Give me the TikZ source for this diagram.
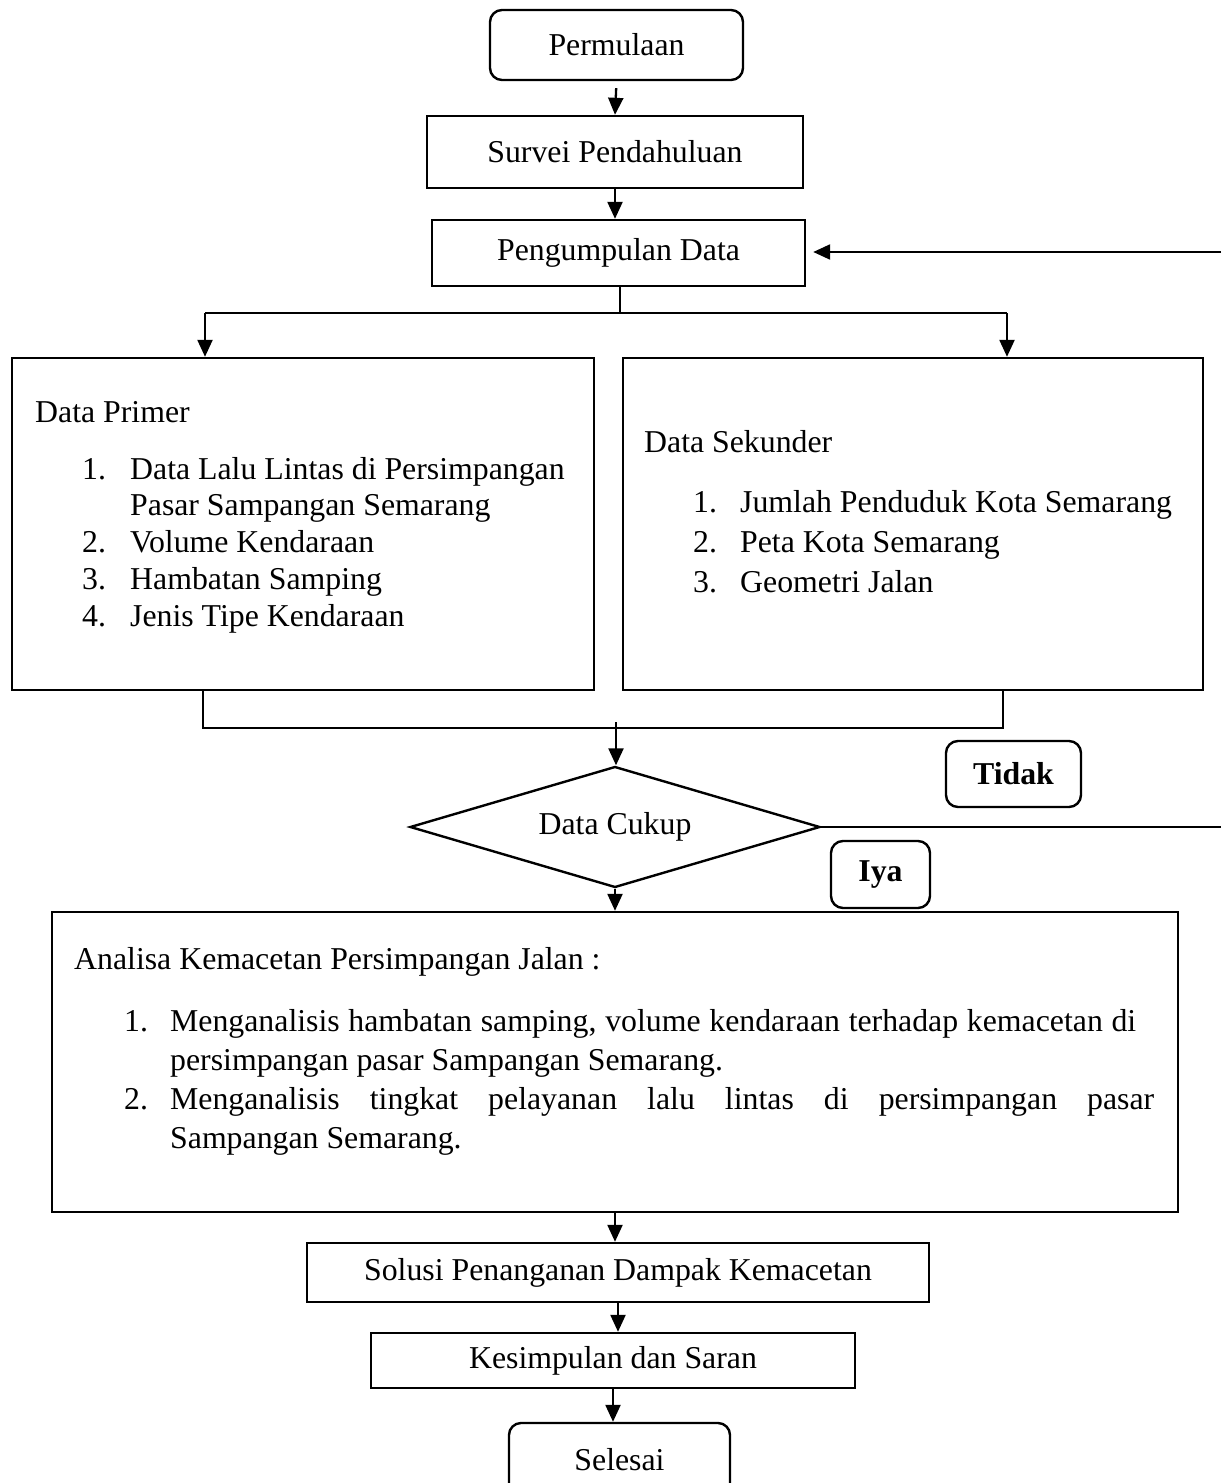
\documentclass[tikz,border=0pt]{standalone}
\usepackage{fontspec}
\setmainfont{Liberation Serif}
\usetikzlibrary{arrows.meta,shapes.geometric,calc}

\begin{document}
\begin{tikzpicture}[x=1pt,y=-1pt,
    font=\fontsize{31.8pt}{36.75pt}\selectfont,
    kotak/.style={draw,line width=2.4pt,inner sep=0pt},
    bulat/.style={kotak,rounded corners=12pt},
    panah/.style={line width=2.3pt,-{Triangle[length=17pt,width=15pt]}},
    garis/.style={line width=1.4pt},
    isi/.style={anchor=base west,inner sep=0pt}]
    \useasboundingbox (0,0) rectangle (1221,1483);
    \fill[white] (0,0) rectangle (1221,1483);
    \clip (0,0) rectangle (1221,1483);
    %%main_flow
    \node[bulat,minimum width=253pt,minimum height=70pt] (mulai) at (616.5,45) {Permulaan};
    \node[kotak,minimum width=376pt,minimum height=72pt] (survei) at (615,152) {Survei Pendahuluan};
    \node[kotak,minimum width=373pt,minimum height=66pt] (kumpul) at (618.5,253) {Pengumpulan Data};
    \node[kotak,minimum width=582pt,minimum height=332pt] (primer) at (303,524) {};
    \node[kotak,minimum width=580pt,minimum height=332pt] (sekunder) at (913,524) {};
    \node[kotak,diamond,shape aspect=3.4,minimum width=410pt,minimum height=121pt] (cukup) at (615,827) {Data Cukup};
    \node[kotak,minimum width=1126pt,minimum height=300pt] (analisa) at (615,1062) {};
    \node[kotak,minimum width=622pt,minimum height=59pt] (solusi) at (618,1272.5) {Solusi Penanganan Dampak Kemacetan};
    \node[kotak,minimum width=484pt,minimum height=55pt] (simpul) at (613,1360.5) {Kesimpulan dan Saran};
    \node[bulat,minimum width=221pt,minimum height=74pt] (selesai) at (619.5,1460) {Selesai};
    %%answers
    \node[bulat,minimum width=135pt,minimum height=66pt,font=\fontsize{31.8pt}{36.75pt}\selectfont\bfseries] (tidak) at (1013.5,774) {Tidak};
    \node[bulat,minimum width=99pt,minimum height=67pt,font=\fontsize{31.8pt}{36.75pt}\selectfont\bfseries] (iya) at (880.5,874.5) {Iya};
    %%box_texts
    \node[isi] (primerJudul) at (35,422) {Data Primer};
    \node[isi] (primerIsi) at (82,479) {\begin{tabular}[t]{@{}p{48pt}@{}l@{}}
        1. & Data Lalu Lintas di Persimpangan\\
           & Pasar Sampangan Semarang\\
        2. & Volume Kendaraan\\
        3. & Hambatan Samping\\
        4. & Jenis Tipe Kendaraan
      \end{tabular}};
    \node[isi] (sekunderJudul) at (644,452) {Data Sekunder};
    \node[isi] (sekunderIsi) at (693,512) {\begin{tabular}[t]{@{}p{47pt}@{}l@{}}
        1. & Jumlah Penduduk Kota Semarang\\[3.25pt]
        2. & Peta Kota Semarang\\[3.25pt]
        3. & Geometri Jalan
      \end{tabular}};
    \node[isi] (analisaJudul) at (74,969) {Analisa Kemacetan Persimpangan Jalan :};
    \node[isi] (analisaIsi) at (124,1031) {\begin{tabular}[t]{@{}p{46pt}@{}l@{}}
        1. & \makebox[966pt][s]{Menganalisis hambatan samping, volume kendaraan terhadap kemacetan di}\\[2.25pt]
           & persimpangan pasar Sampangan Semarang.\\[2.25pt]
        2. & \makebox[984pt][s]{Menganalisis tingkat pelayanan lalu lintas di persimpangan pasar}\\[2.25pt]
           & Sampangan Semarang.
      \end{tabular}};
    %%connectors
    \coordinate (balik) at (1221,252);
    \coordinate (bagi) at (620,313);
    \coordinate (bagiL) at (205,313);
    \coordinate (bagiR) at (1007,313);
    \coordinate (gabungL) at (203,728);
    \coordinate (gabungR) at (1003,728);
    \coordinate (gabung) at (616,722);
    \coordinate (tidakKeluar) at (1221,826);
    \draw[panah,shorten <=7pt] (mulai.south) -- (survei.north);
    \draw[panah] (survei.south) -- (survei.south |- kumpul.north);
    \draw[panah,shorten >=7pt] (balik) -- (balik -| kumpul.east);
    \draw[garis] (kumpul.south -| bagi) -- (bagi);
    \draw[garis] (bagiL) -- (bagiR);
    \draw[panah] (bagiL) -- (bagiL |- primer.north);
    \draw[panah] (bagiR) -- (bagiR |- sekunder.north);
    \draw[garis] (gabungL |- primer.south) -- (gabungL) -- (gabungR) -- (gabungR |- sekunder.south);
    \draw[panah] (gabung) -- (gabung |- cukup.north);
    \draw[garis,line width=1.8pt] (cukup.east) -- (cukup.east -| tidakKeluar);
    \draw[panah] (cukup.south) -- (analisa.north);
    \draw[panah] (analisa.south) -- (analisa.south |- solusi.north);
    \draw[panah] (solusi.south) -- (solusi.south |- simpul.north);
    \draw[panah] (simpul.south) -- (simpul.south |- selesai.north);
\end{tikzpicture}
\end{document}
